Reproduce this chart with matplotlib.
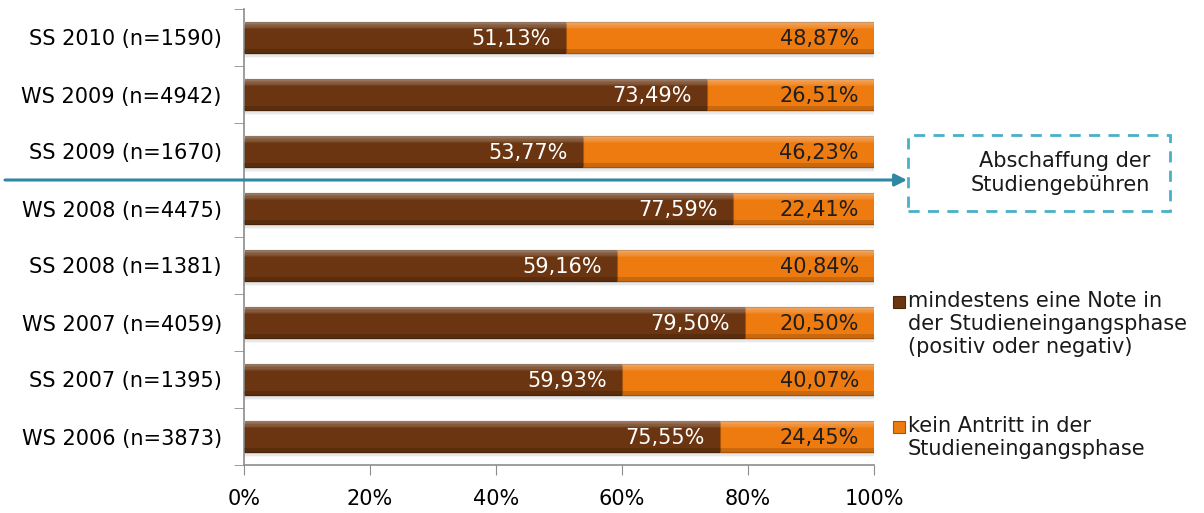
import matplotlib.pyplot as plt
import matplotlib.transforms as mtransforms
from matplotlib.patches import Rectangle
import numpy as np

# Semesters, bottom to top
semesters = ['WS 2006 (n=3873)', 'SS 2007 (n=1395)', 'WS 2007 (n=4059)', 'SS 2008 (n=1381)',
             'WS 2008 (n=4475)', 'SS 2009 (n=1670)', 'WS 2009 (n=4942)', 'SS 2010 (n=1590)']
note = [75.55, 59.93, 79.50, 59.16, 77.59, 53.77, 73.49, 51.13]
kein_antritt = [24.45, 40.07, 20.50, 40.84, 22.41, 46.23, 26.51, 48.87]

legend_labels = ['mindestens eine Note in\nder Studieneingangsphase\n(positiv oder negativ)',
                 'kein Antritt in der\nStudieneingangsphase']

brown = '#6a3510'
orange = '#ee7b10'
fs = 15

plt.rcParams['font.family'] = 'DejaVu Sans'

fig = plt.figure(figsize=(12.04, 5.13), dpi=100)
W, H = 1204, 513
ax = fig.add_axes([244 / W, (513 - 465) / H, (874 - 244) / W, (465 - 9) / H])

y = np.arange(len(semesters))
h = 0.54
note = np.array(note)
kein = np.array(kein_antritt)
total = note + kein

# soft shadow under each bar
for k, a in enumerate([0.25, 0.15, 0.08]):
    ax.barh(y - 0.04 - 0.025 * k, total + 0.4 * (k + 1), height=h, color='#999999',
            alpha=a, linewidth=0, zorder=1)
# main segments
ax.barh(y, note, height=h, color=brown, edgecolor='#4a2408', linewidth=0.8, zorder=2)
ax.barh(y, kein, left=note, height=h, color=orange, edgecolor='#a85306', linewidth=0.8, zorder=2)

# bevel: light gradient on the top, darker strip at the bottom
n = 6
dh = 0.22 * h / n
for k in range(n):
    yk = y + h / 2 - (k + 0.5) * dh
    a = 0.38 * (1 - k / n)
    ax.barh(yk, total, height=dh, color='white', alpha=a, linewidth=0, zorder=3)
ax.barh(y - h / 2 + 0.035, total, height=0.07, color='black', alpha=0.15, linewidth=0, zorder=3)

off = mtransforms.offset_copy(ax.transData, fig=fig, x=-15, units='dots')
for yi, a, b in zip(y, note, kein):
    ax.text(a, yi - 0.03, f'{a:.2f}%'.replace('.', ','), transform=off, ha='right', va='center',
            color='white', fontsize=fs, zorder=4)
    ax.text(a + b, yi - 0.03, f'{b:.2f}%'.replace('.', ','), transform=off, ha='right', va='center',
            color='#1e1e1e', fontsize=fs, zorder=4)

ax.set_xlim(0, 100)
ax.set_ylim(-0.5, len(semesters) - 0.5)
ax.set_xticks(np.arange(0, 101, 20))
ax.set_xticklabels([f'{v}%' for v in range(0, 101, 20)], fontsize=fs)
ax.set_yticks(y)
ax.set_yticklabels(semesters, fontsize=fs)
ax.set_yticks(np.arange(-0.5, len(semesters), 1), minor=True)
ax.tick_params(axis='y', which='major', length=0, pad=16)
ax.tick_params(axis='y', which='minor', length=7, color='#8c8c8c')
ax.tick_params(axis='x', length=7, color='#8c8c8c', pad=10)
for s in ['top', 'right']:
    ax.spines[s].set_visible(False)
for s in ['left', 'bottom']:
    ax.spines[s].set_color('#8c8c8c')
    ax.spines[s].set_linewidth(1.2)

# tuition-fee abolition marker between SS 2009 and WS 2008
bt = mtransforms.blended_transform_factory(fig.transFigure, ax.transData)
ax.annotate('', xy=(907 / W, 4.5), xycoords=bt, xytext=(5 / W, 4.5), textcoords=bt,
            arrowprops=dict(arrowstyle='-|>', color='#2f87a1', lw=2.2, mutation_scale=18,
                            shrinkA=0, shrinkB=0),
            annotation_clip=False, zorder=5)
box = Rectangle((908 / W, (513 - 211) / H), (1170 - 908) / W, (211 - 135) / H,
                transform=fig.transFigure, fill=False, edgecolor='#4bafc8', lw=2,
                linestyle=(0, (4, 3)))
fig.add_artist(box)
fig.text(1150 / W, (513 - 173) / H, 'Abschaffung der\nStudiengebühren', ha='right', va='center',
         fontsize=fs, linespacing=1.25, color='#1a1a1a')

# legend
for (top, col, ec), lab in zip([(296, brown, '#4a2408'), (421, orange, '#a85306')], legend_labels):
    sq = Rectangle((893 / W, (513 - top - 12) / H), 12 / W, 12 / H, transform=fig.transFigure,
                   facecolor=col, edgecolor=ec, lw=0.8)
    fig.add_artist(sq)
    fig.text(908 / W, (513 - top + 5) / H, lab, ha='left', va='top', fontsize=fs,
             linespacing=1.2, color='#1a1a1a')

fig.savefig('out.png', dpi=100)
